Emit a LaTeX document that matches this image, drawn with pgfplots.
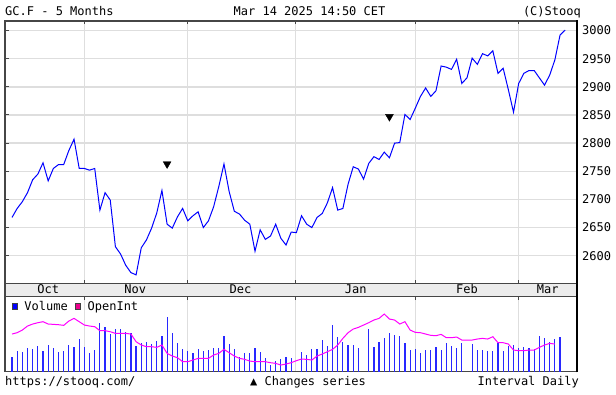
\documentclass[border=0pt]{standalone}
\usepackage{pgfplots}
\pgfplotsset{compat=1.18}
\usepackage{fontspec}
\setmainfont{DejaVu Sans Mono}
\definecolor{gridc}{RGB}{222,222,222}
\definecolor{framec}{RGB}{70,70,70}
\definecolor{stripc}{RGB}{236,236,236}
\definecolor{pricec}{RGB}{0,0,255}
\definecolor{volc}{RGB}{40,40,255}
\definecolor{oic}{RGB}{255,0,255}
\newcommand{\f}{\fontsize{12}{14}\selectfont}
\begin{document}
\begin{tikzpicture}[font=\f]
\path[use as bounding box] (0pt,0pt) rectangle (616pt,394pt);
% ---------------- price panel
\begin{axis}[
 at={(5pt,110.7pt)}, anchor=south west, scale only axis,
 width=572pt, height=262.3pt,
 xmin=-1.354, xmax=109.28, ymin=2551, ymax=3017,
 xtick={14,34,54.9,78,98}, xticklabels={},
 ytick={2600,2650,2700,2750,2800,2850,2900,2950,3000},
 xtick pos=both, ytick pos=left, yticklabel pos=right,
 tick align=inside, major tick length=3.5pt,
 every tick/.style={framec, line width=1pt},
 xmajorgrids, ymajorgrids,
 major grid style={gridc, line width=1.3pt},
 axis line style={framec, line width=1.3pt},
 yticklabel style={font=\f, inner sep=0pt, xshift=5pt},
 /pgf/number format/assume math mode=true,
 /pgf/number format/1000 sep={},
]
\addplot[pricec, line width=1pt] coordinates {
(0,2668) (1,2684) (2,2696) (3,2712) (4,2735) (5,2745) (6,2765) (7,2733)
(8,2755) (9,2762) (10,2762) (11,2787) (12,2807) (13,2755) (14,2755) (15,2752)
(16,2755) (17,2681) (18,2712) (19,2699) (20,2616) (21,2603) (22,2583) (23,2570)
(24,2566) (25,2614) (26,2628) (27,2649) (28,2676) (29,2716) (30,2656) (31,2649)
(32,2669) (33,2684) (34,2662) (35,2671) (36,2678) (37,2650) (38,2662) (39,2687)
(40,2723) (41,2763) (42,2714) (43,2679) (44,2674) (45,2663) (46,2656) (47,2608)
(48,2646) (49,2629) (50,2635) (51,2656) (52,2631) (53,2619) (54,2642) (55,2641)
(56,2671) (57,2656) (58,2650) (59,2668) (60,2675) (61,2694) (62,2721) (63,2681)
(64,2684) (65,2727) (66,2758) (67,2754) (68,2736) (69,2764) (70,2776) (71,2771)
(72,2784) (73,2774) (74,2800) (75,2801) (76,2851) (77,2842) (78,2862) (79,2883)
(80,2898) (81,2883) (82,2893) (83,2937) (84,2935) (85,2931) (86,2949) (87,2906)
(88,2916) (89,2951) (90,2940) (91,2959) (92,2955) (93,2964) (94,2924) (95,2933)
(96,2895) (97,2855) (98,2906) (99,2924) (100,2929) (101,2929) (102,2916) (103,2903)
(104,2921) (105,2948) (106,2992) (107,3001)
};
\addplot[only marks, mark=triangle*, mark size=4.5pt,
  mark options={rotate=180, fill=black, draw=black}]
  coordinates {(30,2763) (73,2847)};
\end{axis}
% ---------------- month strip
\fill[stripc] (5pt,97.5pt) rectangle (577pt,110.7pt);
\draw[framec, line width=1.3pt] (5pt,110.7pt) -- (577pt,110.7pt);
\draw[framec, line width=1.3pt] (5pt,97.5pt) -- (577pt,97.5pt);
\draw[framec, line width=1.3pt] (5pt,97.5pt) -- (5pt,110.7pt);
\node[anchor=base, inner sep=0] at (48.3pt,100pt) {Oct};
\node[anchor=base, inner sep=0] at (135.3pt,100pt) {Nov};
\node[anchor=base, inner sep=0] at (240.5pt,100pt) {Dec};
\node[anchor=base, inner sep=0] at (355.8pt,100pt) {Jan};
\node[anchor=base, inner sep=0] at (467pt,100pt) {Feb};
\node[anchor=base, inner sep=0] at (547.8pt,100pt) {Mar};
% ---------------- volume / open interest panel
\begin{axis}[
 at={(5pt,22.3pt)}, anchor=south west, scale only axis,
 width=572pt, height=75.2pt,
 xmin=-1.354, xmax=109.28, ymin=0, ymax=225.6,
 ytick=\empty,
 xtick={14,34,54.9,78,98}, xticklabels={},
 xtick pos=right, tick align=inside, major tick length=3.5pt,
 every tick/.style={framec, line width=1pt},
 xmajorgrids, major grid style={gridc, line width=1.3pt},
 axis line style={framec, line width=1.3pt},
 legend columns=2,
 legend style={at={(0,1)}, anchor=north west, draw=none, fill=none,
   inner xsep=0pt, inner ysep=0pt, xshift=7pt, yshift=-2.4pt,
   font=\f, nodes={inner sep=2pt},
   /tikz/every even column/.append style={column sep=5.7pt}},
]
\addplot[ycomb, volc, line width=1.2pt,
  legend image code/.code={\draw[fill=blue, draw=black!75, line width=0.7pt] (0pt,-2.7pt) rectangle (5pt,2.7pt); \path (9.3pt,0pt);}]
  coordinates {
(0,45) (1,62) (2,58) (3,71) (4,67) (5,77) (6,63) (7,80) (8,71) (9,58)
(10,61) (11,80) (12,74) (13,97) (14,75) (15,57) (16,64) (17,146) (18,133) (19,112)
(20,127) (21,127) (22,120) (23,115) (24,77) (25,85) (26,90) (27,83) (28,93) (29,107)
(30,163) (31,117) (32,85) (33,67) (34,61) (35,57) (36,67) (37,61) (38,65) (39,71)
(40,71) (41,107) (42,83) (43,67) (44,45) (45,55) (46,57) (47,71) (48,58) (49,41)
(50,20) (51,31) (52,38) (53,45) (54,41) (56,58) (57,50) (58,67) (59,67)
(60,95) (61,77) (62,140) (63,103) (64,89) (65,80) (66,80) (67,70) (69,127)
(70,74) (71,90) (72,100) (73,117) (74,110) (75,108) (76,87) (77,64) (78,67) (79,57)
(80,64) (81,64) (82,73) (83,64) (84,87) (85,77) (86,70) (87,87) (89,83)
(90,64) (91,64) (92,61) (93,61) (94,87) (95,61) (96,77) (97,80) (98,71) (99,73)
(100,71) (101,67) (102,107) (103,100) (104,90) (105,97) (106,103)
};
\addlegendentry{Volume}
\addplot[oic, line width=1pt,
  legend image code/.code={\draw[fill=magenta, draw=black!75, line width=0.7pt] (0pt,-2.7pt) rectangle (5pt,2.7pt); \path (9.3pt,0pt);}]
  coordinates {
(0,113) (1,117) (2,125) (3,137) (4,143) (5,147) (6,150) (7,143) (8,142) (9,141)
(10,139) (11,152) (12,160) (13,150) (14,140) (15,137) (16,135) (17,123) (18,123) (19,120)
(20,115) (21,115) (22,115) (23,113) (24,90) (25,80) (26,75) (27,75) (28,73) (29,80)
(30,55) (31,47) (32,42) (33,30) (34,30) (35,35) (36,40) (37,40) (38,40) (39,50)
(40,55) (41,67) (42,57) (43,47) (44,40) (45,37) (46,32) (47,30) (48,30) (49,30)
(50,27) (51,25) (52,20) (53,23) (54,27) (55,33) (56,38) (57,37) (58,35) (59,47)
(60,53) (61,60) (62,67) (63,80) (64,100) (65,117) (66,128) (67,133) (68,140) (69,147)
(70,155) (71,160) (72,173) (73,158) (74,155) (75,143) (76,150) (77,125) (78,118) (79,117)
(80,113) (81,109) (82,108) (83,112) (84,102) (85,102) (86,104) (87,95) (88,95) (89,95)
(90,98) (91,100) (92,98) (93,105) (94,87) (95,87) (96,83) (97,65) (98,63) (99,63)
(100,65) (101,65) (102,73) (103,80) (104,85) (105,83)
};
\addlegendentry{OpenInt}
\end{axis}
\draw[black, line width=1.3pt] (577pt,21.65pt) -- (577pt,373.65pt);
% ---------------- header and footer
\node[anchor=base west, inner sep=0] at (5pt,378pt) {GC.F - 5 Months};
\node[anchor=base, inner sep=0] at (309.5pt,378pt) {Mar 14 2025 14:50 CET};
\node[anchor=base east, inner sep=0] at (581pt,378pt) {(C)Stooq};
\node[anchor=base west, inner sep=0] at (5pt,9pt) {https://stooq.com/};
\node[anchor=base west, inner sep=0] at (250pt,9pt) {▲ Changes series};
\node[anchor=base east, inner sep=0] at (579pt,9pt) {Interval Daily};
\end{tikzpicture}
\end{document}
